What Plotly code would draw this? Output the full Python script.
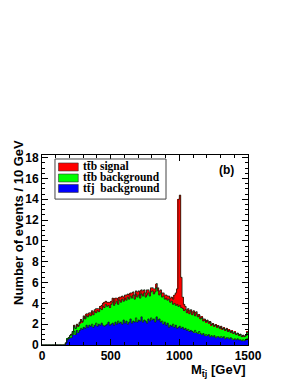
import numpy as np
import plotly.graph_objects as go

# bin lower edges (GeV), 10 GeV bins from 0 to 1500
bin_edges = list(range(0, 1510, 10))

# t t~ j background (bottom layer), 150 bins
ttj_bkg = [0]*17 + [
    0.2, 0.5, 0.6, 0.7, 0.7, 1.0, 1.3, 1.0, 1.4, 1.2,      # 170-260
    1.4, 1.6, 1.5, 1.7, 1.6, 1.9, 1.7, 1.9, 1.8, 2.0,      # 270-360
    1.7, 1.9, 2.1, 1.8, 2.0, 1.9, 2.1, 1.9, 1.8, 1.9,      # 370-460
    2.0, 2.2, 1.9, 2.0, 2.1, 1.9, 2.2, 2.0, 2.3, 2.1,      # 470-560
    2.2, 2.0, 2.4, 2.1, 2.3, 2.0, 2.2, 2.5, 2.1, 2.3,      # 570-660
    2.2, 2.6, 2.2, 2.4, 2.3, 2.7, 2.2, 2.4, 2.3, 2.1,      # 670-760
    2.5, 2.3, 2.6, 2.4, 2.5, 2.2, 2.7, 2.4, 2.5, 2.2,      # 770-860
    2.3, 2.0, 2.2, 1.9, 2.1, 1.7, 1.9, 1.8, 2.0, 1.7,      # 870-960
    1.9, 1.6, 1.7, 1.8, 1.6, 1.7, 1.5, 1.6, 1.4, 1.5,      # 970-1060
    1.3, 1.4, 1.3, 1.2, 1.4, 1.2, 1.1, 1.3, 1.1, 1.0,      # 1070-1160
    1.1, 0.9, 1.0, 0.9, 1.0, 0.8, 0.9, 0.8, 0.9, 0.7,      # 1170-1260
    0.8, 0.8, 0.7, 0.8, 0.7, 0.8, 0.6, 0.7, 0.7, 0.6,      # 1270-1360
    0.7, 0.6, 0.5, 0.6, 0.5, 0.6, 0.5, 0.5, 0.4, 0.5,      # 1370-1460
    0.4, 0.5, 0.6,                                          # 1470-1490
]

# t t~ b background (middle layer)
ttb_bkg = [0]*17 + [
    0.0, 0.1, 0.1, 0.2, 0.3, 0.3, 0.5, 0.6, 0.5, 0.6,
    0.7, 0.7, 0.7, 0.9, 0.9, 0.9, 1.0, 1.0, 1.0, 1.1,
    1.2, 1.3, 1.0, 1.5, 1.2, 1.6, 1.3, 1.8, 1.8, 2.0,
    1.7, 1.6, 1.7, 1.9, 2.0, 1.9, 1.8, 2.2, 1.6, 2.2,
    1.9, 2.4, 1.8, 2.4, 2.0, 2.6, 2.2, 2.2, 2.4, 2.5,
    2.2, 2.3, 2.4, 2.4, 2.2, 2.2, 2.5, 2.6, 2.3, 2.7,
    2.5, 2.4, 2.5, 2.8, 2.4, 2.9, 2.8, 2.8, 2.3, 2.8,
    2.3, 2.7, 2.2, 2.6, 2.2, 2.7, 2.2, 2.4, 1.9, 2.3,
    1.9, 2.3, 2.0, 2.0, 2.0, 1.8, 1.8, 1.8, 1.7, 1.8,
    1.7, 1.8, 1.6, 1.9, 1.4, 1.8, 1.6, 1.5, 1.4, 1.6,
    1.2, 1.5, 1.2, 1.4, 1.1, 1.4, 1.0, 1.2, 0.9, 1.2,
    0.9, 1.0, 0.9, 0.9, 0.8, 0.8, 0.8, 0.8, 0.6, 0.8,
    0.5, 0.7, 0.6, 0.6, 0.5, 0.5, 0.4, 0.5, 0.4, 0.4,
    0.4, 0.4, 0.6,
]

# t t~ b signal (top layer)
ttb_signal = [0]*17 + [
    0.0, 0.0, 0.0, 0.0, 0.05, 0.0, 0.1, 0.0, 0.1, 0.05,
    0.1, 0.15, 0.1, 0.2, 0.1, 0.2, 0.3, 0.2, 0.3, 0.2,
    0.3, 0.2, 0.4, 0.2, 0.3, 0.2, 0.4, 0.3, 0.5, 0.3,
    0.4, 0.3, 0.5, 0.3, 0.4, 0.3, 0.5, 0.3, 0.4, 0.3,
    0.5, 0.3, 0.4, 0.3, 0.5, 0.3, 0.4, 0.3, 0.5, 0.3,
    0.4, 0.3, 0.5, 0.4, 0.3, 0.4, 0.5, 0.3, 0.4, 0.5,
    0.3, 0.4, 0.4, 0.3, 0.5, 0.3, 0.4, 0.3, 0.4, 0.3,
    0.4, 0.3, 0.4, 0.3, 0.4, 0.3, 0.4, 0.4, 0.5, 0.8,
    1.2, 1.5, 10.3, 10.6, 2.9, 1.1, 0.6, 0.3, 0.3, 0.2,
    0.3, 0.2, 0.3, 0.2, 0.3, 0.2, 0.2, 0.1, 0.2, 0.1,
    0.2, 0.1, 0.1, 0.1, 0.1, 0.05, 0.1, 0.05, 0.1, 0.05,
    0.1, 0.05, 0.05, 0.1, 0.05, 0.05, 0.05, 0.1, 0.05, 0.05,
    0.05, 0.05, 0.05, 0.05, 0.05, 0.05, 0.05, 0.05, 0.05, 0.05,
    0.05, 0.05, 0.05,
]

legend_labels = ["tt\u0304b signal", "tt\u0304b background", "tt\u0304j\u00a0 background"]
colors = ["#FF0000", "#00FF00", "#0000FF"]

edges = np.array(bin_edges, dtype=float)
centers = (edges[:-1] + edges[1:]) / 2
blue = np.array(ttj_bkg)
green = np.array(ttb_bkg)
red = np.array(ttb_signal)

fig = go.Figure()
for vals, col in [(blue, colors[2]), (green, colors[1]), (red, colors[0])]:
    fig.add_trace(go.Bar(x=centers, y=vals, width=10, marker=dict(color=col, line=dict(width=0)),
                         showlegend=False, hoverinfo="skip"))

# histogram outlines (step lines on top of each stacked level)
cum = [blue, blue + green, blue + green + red]
for c in cum:
    xs = list(edges[:-1]) + [edges[-1]]
    ys = list(c) + [c[-1]]
    fig.add_trace(go.Scatter(x=xs, y=ys, mode="lines",
                             line=dict(shape="hv", color="rgba(20,40,20,0.9)", width=0.9),
                             showlegend=False, hoverinfo="skip"))

bold_sans = dict(family="Liberation Sans, Arial, sans-serif", size=12, color="black", weight="bold")

fig.update_layout(
    width=290, height=377,
    margin=dict(l=34, r=50, t=147, b=40),
    barmode="stack", bargap=0,
    plot_bgcolor="white", paper_bgcolor="white",
    showlegend=False,
    xaxis=dict(range=[0, 1500], tickvals=[0, 500, 1000, 1500], ticktext=["0", "500", "1000", "1500"],
               ticks="inside", ticklen=6, tickwidth=1, tickcolor="black",
               minor=dict(dtick=100, ticks="inside", ticklen=3, tickcolor="black", tickwidth=1),
               showline=True, linecolor="black", linewidth=1, mirror="ticks",
               showgrid=False, zeroline=False, tickfont=bold_sans, automargin=False),
    yaxis=dict(range=[0, 18.25], tickvals=list(range(0, 19, 2)), ticktext=[str(v) for v in range(0, 19, 2)],
               ticks="inside", ticklen=6, tickwidth=1, tickcolor="black",
               minor=dict(dtick=0.5, ticks="inside", ticklen=3, tickcolor="black", tickwidth=1),
               showline=True, linecolor="black", linewidth=1, mirror="ticks",
               showgrid=False, zeroline=False, tickfont=bold_sans, automargin=False),
)

annotations = [
    dict(text="Number of events / 10 GeV", textangle=-90, xref="paper", yref="paper",
         x=-0.117, y=0.647, xanchor="center", yanchor="middle", showarrow=False,
         font=dict(family="Liberation Sans, Arial, sans-serif", size=13, color="black", weight="bold")),
    dict(text="M<sub>t\u0304j</sub> [GeV]", xref="paper", yref="paper", x=1.0, y=-0.135,
         xanchor="right", yanchor="middle", showarrow=False,
         font=dict(family="Liberation Sans, Arial, sans-serif", size=13, color="black", weight="bold")),
    dict(text="(b)", xref="paper", yref="paper", x=0.898, y=0.921, xanchor="center", yanchor="middle",
         showarrow=False, font=dict(family="Liberation Sans, Arial, sans-serif", size=12, color="black", weight="bold")),
]

shapes = [dict(type="rect", xref="paper", yref="paper", x0=0.063, x1=0.602, y0=0.768, y1=0.979,
               line=dict(color="#444444", width=1), fillcolor="white", layer="above")]

# legend entries
entry_y = [0.937, 0.879, 0.824]
for lab, col, yy in zip(legend_labels, colors, entry_y):
    shapes.append(dict(type="rect", xref="paper", yref="paper", x0=0.080, x1=0.176, y0=yy - 0.021, y1=yy + 0.021,
                       line=dict(color="#333333", width=0.6), fillcolor=col, layer="above"))
    annotations.append(dict(text=lab, xref="paper", yref="paper", x=0.188, y=yy, xanchor="left", yanchor="middle",
                            showarrow=False,
                            font=dict(family="Liberation Serif, Times New Roman, serif", size=11.5, color="black",
                                      weight="bold")))

fig.update_layout(shapes=shapes, annotations=annotations)
fig.write_html("out.html")
